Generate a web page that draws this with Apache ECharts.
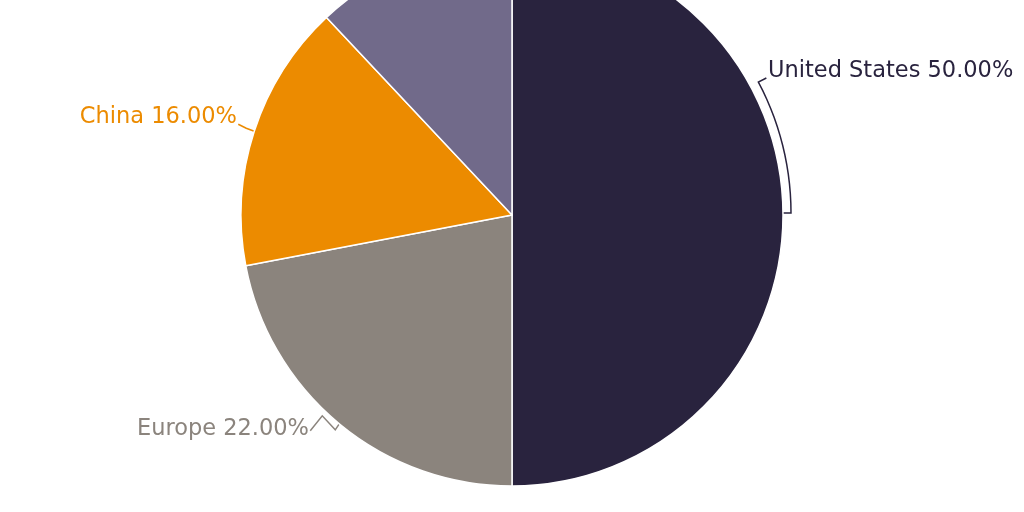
<!DOCTYPE html>
<html>
<head>
<meta charset="utf-8">
<script src="https://cdn.jsdelivr.net/npm/echarts@6/dist/echarts.min.js"></script>
<style>
  html, body { margin: 0; padding: 0; background: #fff; }
  #chart { width: 1024px; height: 512px; }
</style>
</head>
<body>
<div id="chart"></div>
<script>
const regions = ["United States", "Europe", "China", "Rest of World"];
const shares = [50, 22, 16, 12];
const colors = ["#29233E", "#8B847D", "#EC8B00", "#716A8A"];

const cx = 512, cy = 215, R = 271;

// where each label sits in the picture
const labelPos = {
  "United States": { x: 768, y: 71, align: "left" },
  "Europe": { x: 309, y: 429, align: "right" },
  "China": { x: 237, y: 117, align: "right" },
};

// leader line shapes, offsets from the slice's anchor point
function leader(name, p0) {
  const [x0, y0] = p0;
  if (name === "United States") {
    // bracket hugging the arc
    const pts = [[x0, y0 - 2], [x0 + 8, y0 - 2]];
    const r = R + 8;
    for (let a = 0; a <= 28; a += 2) {
      const t = (a * Math.PI) / 180;
      pts.push([cx + r * Math.cos(t), cy - 2 - r * Math.sin(t)]);
    }
    const last = pts[pts.length - 1];
    pts.push([last[0] + 8, last[1] - 4]);
    return pts;
  }
  if (name === "Europe") {
    return [[x0, y0], [x0 - 4, y0 + 6], [x0 - 17, y0 - 8], [x0 - 29, y0 + 7]];
  }
  if (name === "China") {
    return [[x0, y0], [x0 - 8, y0 - 3], [x0 - 16, y0 - 7]];
  }
  return null;
}

const chart = echarts.init(document.getElementById("chart"));

chart.setOption({
  animation: false,
  series: [
    {
      type: "pie",
      center: [cx, cy],
      radius: R,
      startAngle: 90,
      clockwise: true,
      avoidLabelOverlap: false,
      itemStyle: { borderColor: "#fff", borderWidth: 1.5 },
      label: {
        show: true,
        position: "outside",
        fontFamily: "DejaVu Sans",
        fontSize: 22.5,
        formatter: (p) => p.name + " " + p.value.toFixed(2) + "%",
      },
      labelLine: { show: true, length: 8, length2: 14, lineStyle: { width: 1.5 } },
      labelLayout: (params) => {
        const name = regions[params.dataIndex];
        const pos = labelPos[name];
        if (!pos) return {};
        const out = { x: pos.x, y: pos.y, align: pos.align, verticalAlign: "middle" };
        if (params.labelLinePoints) out.labelLinePoints = leader(name, params.labelLinePoints[0]);
        return out;
      },
      data: regions.map((name, i) => ({
        name: name,
        value: shares[i],
        itemStyle: { color: colors[i] },
        label: { color: colors[i], show: name !== "Rest of World" },
        labelLine: { show: name !== "Rest of World", lineStyle: { color: colors[i] } },
      })),
    },
  ],
});
</script>
</body>
</html>
